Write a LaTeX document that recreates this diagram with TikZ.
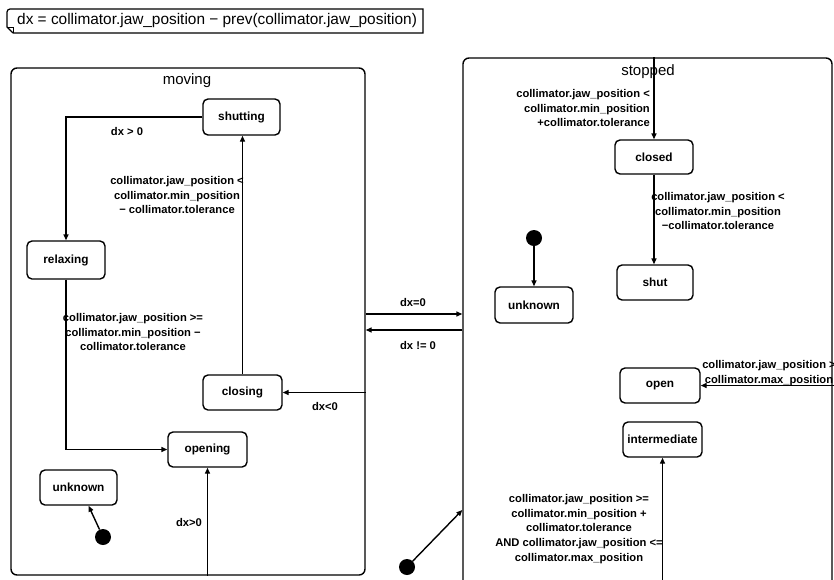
\documentclass[tikz,border=0pt]{standalone}
\usepackage{fontspec}
\setmainfont{Liberation Sans}
\usetikzlibrary{arrows.meta}

\begin{document}
\begin{tikzpicture}[x=1pt,y=-1pt,
  state/.style={draw, rounded corners=5pt, line width=1.4pt, inner sep=0pt,
    font=\fontsize{11.8}{14}\selectfont\bfseries},
  container/.style={draw, rounded corners=6pt, line width=1.4pt, inner sep=0pt},
  trans/.style={line width=1.4pt, -{Triangle[length=6pt,width=5pt]}},
  lbl/.style={font=\fontsize{11.2}{14.7}\selectfont\bfseries, align=center, inner sep=0pt},
  title/.style={font=\fontsize{15}{18}\selectfont, inner sep=0pt},
  initial/.style={circle, fill, minimum size=16pt, inner sep=0pt},
]
\useasboundingbox (0,0) rectangle (834,579);
\clip (0,0) rectangle (834,579);
\fill[white] (0,0) rectangle (834,579);

% note with folded corner
\draw[line width=1.2pt] (13,33) -- (423,33) -- (423,9) -- (10,9)
  [rounded corners=3pt] -- (7,9) [sharp corners] -- (7,27) -- (13,33);
\draw[line width=1pt] (7,27) -- (13,27) -- (13,33);
\node[anchor=west, inner sep=0pt, font=\fontsize{15.4}{18}\selectfont] (note) at (17,21)
  {dx = collimator.jaw\_position − prev(collimator.jaw\_position)};

% composite states
\node[container, minimum width=354pt, minimum height=507pt] (moving) at (188,321.5) {};
\node[title] (movingtitle) at (187,81) {moving};
\node[container, minimum width=369pt, minimum height=570pt] (stopped) at (647.5,343) {};
\node[title] (stoppedtitle) at (648,72) {stopped};

% states of moving
\node[state, minimum width=77pt, minimum height=36pt] (shutting) at (241.5,117) {shutting};
\node[state, minimum width=78pt, minimum height=38pt] (relaxing) at (66,260) {relaxing};
\node[state, minimum width=79pt, minimum height=35pt] (closing) at (242.5,392.5) {closing};
\node[state, minimum width=79pt, minimum height=35pt] (opening) at (207.5,449.5) {opening};
\node[state, minimum width=77pt, minimum height=35pt] (unknownA) at (78.5,487.5) {unknown};
\node[initial] (initA) at (103,537) {};

% states of stopped
\node[state, minimum width=78pt, minimum height=34pt] (closed) at (654,157) {closed};
\node[state, minimum width=76pt, minimum height=35pt] (shut) at (655,282.5) {shut};
\node[state, minimum width=78pt, minimum height=36pt] (unknownB) at (534,305) {unknown};
\node[initial] (initB) at (534,238) {};
\node[state, minimum width=80pt, minimum height=35pt] (open) at (660,385.5) {open};
\node[state, minimum width=79pt, minimum height=35pt] (intermediate) at (662.5,439.5) {intermediate};

% top-level initial state
\node[initial] (initC) at (407,567) {};

% entry points from beyond the drawing
\coordinate (openin) at (860,385.5);
\coordinate (interin) at (662.5,620);

% transitions inside moving
\draw[trans] (shutting.west) -| (relaxing.north);
\node[lbl] (l1) at (127,131) {dx {>} 0};
\draw[trans] (closing.north) -- (closing.north |- shutting.south);
\node[lbl] (l2) at (177,195) {collimator.jaw\_position <\\collimator.min\_position\\− collimator.tolerance};
\draw[trans] (relaxing.south) |- (opening.west);
\node[lbl] (l3) at (133,332) {collimator.jaw\_position >=\\collimator.min\_position −\\collimator.tolerance};
\draw[trans] (moving.east |- closing.east) -- (closing.east);
\node[lbl] (l4) at (325,406) {dx<0};
\draw[trans] (opening.south |- moving.south) -- (opening.south);
\node[lbl] (l5) at (189,522) {dx>0};
\draw[trans] (initA) -- ([xshift=10pt]unknownA.south);

% transitions between moving and stopped
\draw[trans] (moving.east |- 0,314) -- (stopped.west |- 0,314);
\node[lbl] (l6) at (413,302) {dx=0};
\draw[trans] (stopped.west |- 0,330) -- (moving.east |- 0,330);
\node[lbl] (l7) at (418,345) {dx != 0};
\draw[trans] (initC) -- (stopped.west |- 0,510);

% transitions inside stopped
\draw[trans] (closed.north |- stopped.north) -- (closed.north);
\node[lbl, align=right, anchor=east] (l8) at (650,108) {collimator.jaw\_position <\\collimator.min\_position\\+collimator.tolerance};
\draw[trans] (closed.south) -- (closed.south |- shut.north);
\node[lbl] (l9) at (718,211) {collimator.jaw\_position <\\collimator.min\_position\\−collimator.tolerance};
\draw[trans] (initB) -- (unknownB.north);
\draw[trans] (openin) -- (open.east);
\node[lbl] (l10) at (769,373) {collimator.jaw\_position >\\collimator.max\_position};
\draw[trans] (interin) -- (intermediate.south);
\node[lbl] (l11) at (579,529) {collimator.jaw\_position >=\\collimator.min\_position +\\collimator.tolerance\\AND collimator.jaw\_position <=\\collimator.max\_position};
\end{tikzpicture}
\end{document}
